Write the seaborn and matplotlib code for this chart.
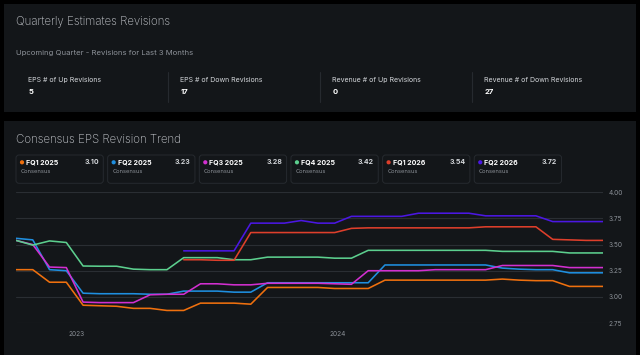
#!/usr/bin/env python3
"""Consensus EPS revision trend dashboard (dark theme)"""

import numpy as np
import pandas as pd
import matplotlib
matplotlib.use('Agg')
import matplotlib.pyplot as plt
from matplotlib.patches import FancyBboxPatch, Rectangle, Circle
import seaborn as sns

# ---- data -------------------------------------------------------------
stat_labels = ['EPS # of Up Revisions', 'EPS # of Down Revisions',
               'Revenue # of Up Revisions', 'Revenue # of Down Revisions']
stat_values = [5, 17, 0, 27]

quarters = ['FQ1 2025', 'FQ2 2025', 'FQ3 2025', 'FQ4 2025', 'FQ1 2026', 'FQ2 2026']
colors = ['#ef700e', '#1f8fe0', '#d22fd0', '#5ccf8e', '#de3f2b', '#4b17e3']

dates = pd.date_range('2022-10-08', '2025-01-05', periods=36)

fq1_2025 = [3.26, 3.26, 3.14, 3.14, 2.92, 2.915, 2.91, 2.89, 2.89, 2.87, 2.87, 2.94,
            2.94, 2.94, 2.93, 3.09, 3.09, 3.09, 3.09, 3.08, 3.08, 3.08, 3.16, 3.16,
            3.16, 3.16, 3.16, 3.16, 3.16, 3.17, 3.16, 3.155, 3.155, 3.10, 3.10, 3.10]
fq2_2025 = [3.56, 3.545, 3.26, 3.25, 3.035, 3.03, 3.03, 3.03, 3.025, 3.025, 3.055, 3.055,
            3.055, 3.045, 3.045, 3.135, 3.135, 3.135, 3.135, 3.135, 3.135, 3.135, 3.305, 3.305,
            3.305, 3.305, 3.305, 3.305, 3.305, 3.275, 3.265, 3.26, 3.26, 3.23, 3.23, 3.23]
fq3_2025 = [3.54, 3.50, 3.285, 3.28, 2.95, 2.945, 2.945, 2.945, 3.02, 3.025, 3.025, 3.125,
            3.125, 3.115, 3.115, 3.13, 3.13, 3.13, 3.13, 3.125, 3.12, 3.25, 3.25, 3.25,
            3.25, 3.26, 3.26, 3.26, 3.26, 3.30, 3.30, 3.30, 3.30, 3.28, 3.28, 3.28]
fq4_2025 = [3.54, 3.495, 3.535, 3.52, 3.295, 3.293, 3.293, 3.265, 3.26, 3.26, 3.375, 3.375,
            3.375, 3.355, 3.355, 3.38, 3.38, 3.38, 3.38, 3.37, 3.37, 3.445, 3.445, 3.445,
            3.445, 3.445, 3.445, 3.445, 3.445, 3.435, 3.435, 3.435, 3.435, 3.42, 3.42, 3.42]
fq1_2026 = [np.nan] * 10 + [
            3.355, 3.355, 3.35, 3.35, 3.615, 3.615, 3.615, 3.615, 3.615, 3.615, 3.655, 3.66,
            3.66, 3.66, 3.66, 3.66, 3.66, 3.66, 3.67, 3.67, 3.67, 3.67, 3.55, 3.545,
            3.54, 3.54]
fq2_2026 = [np.nan] * 10 + [
            3.44, 3.44, 3.44, 3.44, 3.705, 3.705, 3.705, 3.73, 3.705, 3.705, 3.77, 3.77,
            3.77, 3.77, 3.80, 3.80, 3.80, 3.80, 3.775, 3.775, 3.775, 3.775, 3.72, 3.72,
            3.72, 3.72]

series = [fq1_2025, fq2_2025, fq3_2025, fq4_2025, fq1_2026, fq2_2026]
y_ticks = [2.75, 3.00, 3.25, 3.50, 3.75, 4.00]
x_ticks = ['2023-01-01', '2024-01-01']

# ---- style ------------------------------------------------------------
sns.set_style('dark')
plt.rcParams['font.family'] = ['Inter', 'DejaVu Sans']

BG = '#000000'
PANEL = '#131619'
BORDER = '#262a2f'
GRID = '#2a2e33'
TITLE = '#c6c9ce'
TXT = '#d3d6da'
MUTED = '#8c9198'

df = pd.DataFrame({
    'date': np.tile(dates, len(quarters)),
    'eps': np.concatenate(series),
    'quarter': np.repeat(quarters, len(dates)),
})

W, H = 640, 355
fig = plt.figure(figsize=(W / 100, H / 100), dpi=100, facecolor=BG)

# background layer in pixel coordinates
bg = fig.add_axes([0, 0, 1, 1], zorder=0)
bg.set_xlim(0, W)
bg.set_ylim(H, 0)
bg.axis('off')

bg.add_patch(Rectangle((4, 4), 632, 107.5, facecolor=PANEL, edgecolor='none'))
bg.add_patch(Rectangle((4, 120.5), 632, 240, facecolor=PANEL, edgecolor='none'))

# top panel
bg.text(16, 22, 'Quarterly Estimates Revisions', color=TITLE, fontsize=8.3,
        fontweight='light', va='center', ha='left')
bg.text(16, 52.5, 'Upcoming Quarter - Revisions for Last 3 Months', color=MUTED,
        fontsize=5.6, va='center', ha='left')
for i, (lab, val) in enumerate(zip(stat_labels, stat_values)):
    x0 = 28.5 + 152 * i
    bg.text(x0, 80, lab, color=TXT, fontsize=5.0, va='center', ha='left')
    bg.text(x0, 92.5, str(val), color='white', fontsize=5.5, fontweight='bold',
            va='center', ha='left')
    if i > 0:
        bg.plot([x0 - 12.5, x0 - 12.5], [72, 102], color=BORDER, lw=0.8)

# bottom panel title + legend cards
bg.text(16, 140, 'Consensus EPS Revision Trend', color=TITLE, fontsize=8.3,
        fontweight='light', va='center', ha='left')
for i, (q, c, s) in enumerate(zip(quarters, colors, series)):
    x0 = 16 + 91.65 * i
    bg.add_patch(FancyBboxPatch((x0, 155), 87.3, 28.3,
                                boxstyle='round,pad=0,rounding_size=3',
                                facecolor=PANEL, edgecolor=BORDER, lw=0.7))
    bg.add_patch(Circle((x0 + 6, 162.3), 2.1, facecolor=c, edgecolor='none'))
    bg.text(x0 + 10, 162.5, q, color='white', fontsize=5, fontweight='bold',
            va='center', ha='left')
    bg.text(x0 + 83, 162.5, f'{s[-1]:.2f}', color=TXT, fontsize=5, fontweight='bold',
            va='center', ha='right')
    bg.text(x0 + 4.7, 171.5, 'Consensus', color=MUTED, fontsize=4.1,
            va='center', ha='left')

# ---- line chart -------------------------------------------------------
ax = fig.add_axes([16 / W, (H - 323) / H, 587 / W, (323 - 192.3) / H], zorder=1)
ax.set_facecolor('none')
sns.lineplot(data=df, x='date', y='eps', hue='quarter', hue_order=quarters,
             palette=colors, ax=ax, legend=False, linewidth=1.15)

ax.set_xlim(dates[0], dates[-1])
ax.set_ylim(2.75, 4.0)
ax.set_yticks(y_ticks)
ax.set_yticklabels([f'{v:.2f}' for v in y_ticks])
ax.set_xticks(pd.to_datetime(x_ticks))
ax.set_xticklabels([d[:4] for d in x_ticks])
ax.yaxis.tick_right()
ax.grid(axis='y', color=GRID, lw=0.8)
ax.grid(axis='x', visible=False)
ax.tick_params(axis='y', length=0, pad=4, labelsize=4.7, labelcolor=MUTED)
ax.tick_params(axis='x', length=2.5, width=0.7, color='#5b6067', pad=3,
               labelsize=4.7, labelcolor=MUTED)
for sp in ax.spines.values():
    sp.set_visible(False)
ax.set_xlabel('')
ax.set_ylabel('')

plt.savefig('out.png', dpi=100, facecolor=BG)
